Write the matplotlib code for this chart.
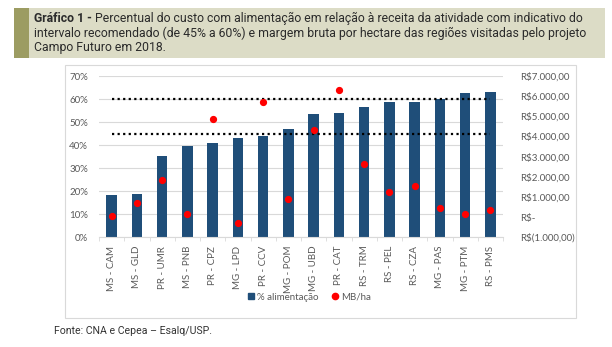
import matplotlib.pyplot as plt
from matplotlib.lines import Line2D
from matplotlib.patches import Rectangle

# --- DATA ---
regioes = ['MS - CAM', 'MS - GLD', 'PR - UMR', 'MS - PNB', 'PR - CPZ', 'MG - LPD',
           'PR - CCV', 'MG - POM', 'MG - UBD', 'PR - CAT', 'RS - TRM', 'RS - PEL',
           'RS - CZA', 'MG - PAS', 'MG - PTM', 'RS - PMS']
pct_alimentacao = [18.5, 18.7, 35.3, 39.8, 40.9, 43.1, 43.8, 47.1, 53.5, 53.9,
                   56.7, 58.6, 58.6, 60.1, 62.7, 63.0]
mb_ha = [60, 680, 1820, 170, 4880, -290, 5730, 900, 4330, 6310,
         2630, 1250, 1520, 440, 170, 340]
limite_inf = 45
limite_sup = 60
left_ticks = [0, 10, 20, 30, 40, 50, 60, 70]
right_ticks = [-1000, 0, 1000, 2000, 3000, 4000, 5000, 6000, 7000]

BAR_COLOR = '#1f4e79'
DOT_COLOR = '#ff0000'
TXT = '#595959'


def brl(v):
    if v == 0:
        return 'R$-'
    s = f'{abs(v):,.2f}'.replace(',', 'X').replace('.', ',').replace('X', '.')
    return f'R$({s})' if v < 0 else f'R${s}'


plt.rcParams['font.family'] = ['Lato', 'DejaVu Sans']
fig = plt.figure(figsize=(6.12, 3.47), dpi=100)
W, H = 612, 347
HEAD_FONT = ['Roboto', 'DejaVu Sans']

# header box
fig.patches.append(Rectangle((14 / W, 1 - 58 / H), 15 / W, 50 / H, transform=fig.transFigure,
                             facecolor='#9c9c62', edgecolor='none'))
fig.patches.append(Rectangle((29 / W, 1 - 58 / H), 576 / W, 50 / H, transform=fig.transFigure,
                             facecolor='#dcdcc6', edgecolor='none'))
lines = ['Percentual do custo com alimentação em relação à receita da atividade com indicativo do',
         'intervalo recomendado (de 45% a 60%) e margem bruta por hectare das regiões visitadas pelo projeto',
         'Campo Futuro em 2018.']

# size the header so the longest line fits the box like the original
probe = fig.text(0, 0, lines[1], fontsize=10, family=HEAD_FONT)
fig.canvas.draw()
hs = 10 * 556 / probe.get_window_extent().width
probe.remove()

t1 = fig.text(34 / W, 1 - 18 / H, 'Gráfico 1 -', fontsize=hs, fontweight='bold', color='#2b2b2b',
              va='center', ha='left', family=HEAD_FONT)
fig.canvas.draw()
bb = t1.get_window_extent()
fig.text((bb.x1 + 3) / W, 1 - 18 / H, lines[0], fontsize=hs, color='#2b2b2b', va='center',
         ha='left', family=HEAD_FONT)
fig.text(34 / W, 1 - 33 / H, lines[1], fontsize=hs, color='#2b2b2b', va='center', ha='left',
         family=HEAD_FONT)
fig.text(34 / W, 1 - 48 / H, lines[2], fontsize=hs, color='#2b2b2b', va='center', ha='left',
         family=HEAD_FONT)

# chart frame
fig.patches.append(Rectangle((65 / W, 1 - 318 / H), 511 / W, 253 / H, transform=fig.transFigure,
                             facecolor='none', edgecolor='#d9d9d9', linewidth=0.8))

ax = fig.add_axes([99 / W, 1 - 237.3 / H, 404 / W, 161.3 / H])
x = list(range(len(regioes)))
ax.bar(x, pct_alimentacao, width=0.42, color=BAR_COLOR, zorder=2)
ax.plot([x[0], x[-1]], [limite_sup, limite_sup], color='black', linestyle=(0, (1, 1.5)),
        linewidth=1.6, zorder=3)
ax.plot([x[0], x[-1]], [limite_inf, limite_inf], color='black', linestyle=(0, (1, 1.5)),
        linewidth=1.6, zorder=3)
ax.set_xlim(-0.5, len(regioes) - 0.5)
ax.set_ylim(0, 70)
ax.set_yticks(left_ticks)
ax.set_yticklabels([f'{t}%' for t in left_ticks])
ax.set_xticks(x)
ax.set_xticklabels(regioes, rotation=90)
ax.set_xticks([i - 0.5 for i in range(len(regioes) + 1)], minor=True)
ax.tick_params(axis='x', which='major', length=0, pad=6, labelsize=7, colors=TXT)
ax.tick_params(axis='x', which='minor', length=3, color='#d9d9d9')
ax.tick_params(axis='y', length=0, pad=8, labelsize=7, colors=TXT)
ax.grid(axis='y', color='#d9d9d9', linewidth=0.8, zorder=0)
ax.set_axisbelow(True)
for s in ['top', 'right', 'left']:
    ax.spines[s].set_visible(False)
ax.spines['bottom'].set_color('#d9d9d9')

ax2 = ax.twinx()
ax2.plot(x, mb_ha, 'o', color=DOT_COLOR, markersize=4.2, zorder=4)
ax2.set_ylim(-1000, 7000)
ax2.set_yticks(right_ticks)
ax2.set_yticklabels([brl(t) for t in right_ticks])
ax2.tick_params(axis='y', length=0, pad=12, labelsize=7, colors=TXT)
for s in ax2.spines.values():
    s.set_visible(False)

handles = [Line2D([], [], marker='s', linestyle='none', color=BAR_COLOR, markersize=4.5),
           Line2D([], [], marker='o', linestyle='none', color=DOT_COLOR, markersize=4.5)]
fig.legend(handles, ['% alimentação', 'MB/ha'], loc='center', bbox_to_anchor=(308 / W, 1 - 297 / H),
           ncol=2, frameon=False, fontsize=7, handletextpad=0.0, handlelength=1.2,
           columnspacing=1.1, labelcolor=TXT)

fig.text(54 / W, 1 - 331 / H, 'Fonte: CNA e Cepea – Esalq/USP.', fontsize=hs * 0.85, color='#333333',
         va='center', ha='left', family=HEAD_FONT)

fig.savefig('out.png', dpi=100)
